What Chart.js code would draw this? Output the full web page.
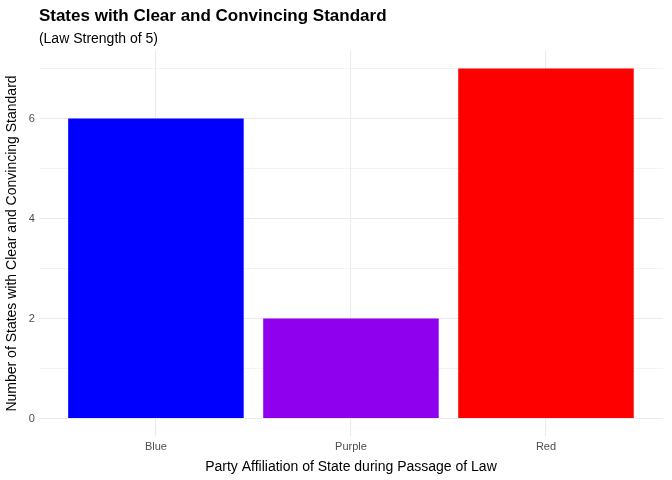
<!DOCTYPE html>
<html>
<head>
<meta charset="utf-8">
<script src="https://cdn.jsdelivr.net/npm/chart.js@4"></script>
<style>
  html, body { margin: 0; padding: 0; background: #fff; }
  #wrap { width: 672px; height: 480px; }
</style>
</head>
<body>
<div id="wrap"><canvas id="c"></canvas></div>
<script>
const categories = ['Blue', 'Purple', 'Red'];
const counts = [6, 2, 7];
const barColors = ['#0000ff', '#8f00ef', '#ff0000'];
const yTicks = [0, 1, 2, 3, 4, 5, 6, 7];

const FONT = 'Liberation Sans, Arial, sans-serif';

// draws the title and subtitle aligned with the plot panel
const headerPlugin = {
  id: 'header',
  afterDraw(chart) {
    const c = chart.ctx;
    const left = chart.chartArea.left;
    c.save();
    c.fillStyle = '#000';
    c.textBaseline = 'alphabetic';
    c.font = 'bold 17px ' + FONT;
    c.fillText('States with Clear and Convincing Standard', left, 21);
    c.font = '14px ' + FONT;
    c.fillText('(Law Strength of 5)', left, 43);
    c.restore();
  }
};

new Chart(document.getElementById('c'), {
  type: 'bar',
  data: {
    datasets: [{
      data: counts.map((v, i) => ({ x: i + 1, y: v })),
      backgroundColor: barColors,
      borderWidth: 0,
      barPercentage: 0.9,
      categoryPercentage: 1
    }]
  },
  options: {
    responsive: true,
    maintainAspectRatio: false,
    animation: false,
    layout: { padding: { top: 51, right: 9, left: 4, bottom: 4 } },
    plugins: { legend: { display: false }, tooltip: { enabled: false } },
    scales: {
      x: {
        type: 'linear',
        offset: false,
        min: 0.4,
        max: categories.length + 0.6,
        afterBuildTicks: s => { s.ticks = categories.map((_, i) => ({ value: i + 1 })); },
        ticks: {
          callback: v => categories[v - 1],
          font: { size: 11, family: FONT },
          color: '#4d4d4d',
          padding: 4
        },
        grid: { color: '#ebebeb', lineWidth: 1.1, drawTicks: false, offset: false },
        border: { display: false },
        title: {
          display: true,
          text: 'Party Affiliation of State during Passage of Law',
          font: { size: 14, family: FONT },
          color: '#000',
          padding: { top: 2, bottom: 0 }
        }
      },
      y: {
        min: -0.35,
        max: 7.35,
        afterBuildTicks: s => { s.ticks = yTicks.map(v => ({ value: v })); },
        ticks: {
          callback: v => (v % 2 === 0 ? v : ''),
          font: { size: 11, family: FONT },
          color: '#4d4d4d',
          padding: 4
        },
        grid: {
          color: '#ebebeb',
          lineWidth: ctx => (ctx.tick && ctx.tick.value % 2 === 0 ? 1.1 : 0.6),
          drawTicks: false
        },
        border: { display: false },
        title: {
          display: true,
          text: 'Number of States with Clear and Convincing Standard',
          font: { size: 14, family: FONT },
          color: '#000',
          padding: { top: 0, bottom: 4 }
        }
      }
    }
  },
  plugins: [headerPlugin]
});
</script>
</body>
</html>
